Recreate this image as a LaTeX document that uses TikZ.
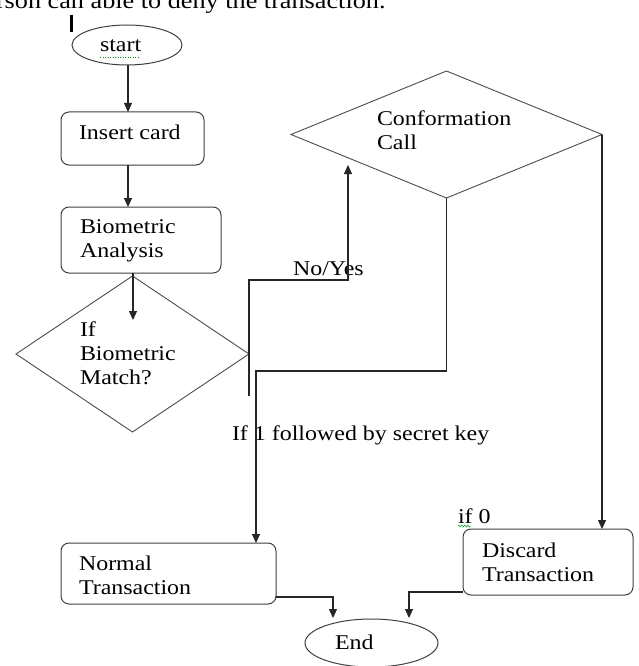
\documentclass[tikz,border=0pt]{standalone}
\usepackage{fontspec}
\setmainfont{Liberation Serif}[FakeStretch=1.14]
\usetikzlibrary{shapes.geometric,arrows.meta,decorations.pathmorphing}
\begin{document}
\begin{tikzpicture}[x=1pt,y=-1pt,
  every node/.style={inner sep=0pt, outer sep=0pt},
  lbl/.style={anchor=west, align=left, font=\fontsize{21}{24}\selectfont, text=black},
  rbox/.style={draw=black!75, line width=1pt, rounded corners=8pt},
  term/.style={draw=black!75, line width=1pt, ellipse},
  dec/.style={draw=black!70, line width=0.9pt, diamond},
  arr/.style={draw=black!85, line width=1.1pt, -{Triangle[width=8pt,length=9pt]}},
  ln/.style={draw=black!80, line width=1.1pt},
  squig/.style={draw=green!60!black, line width=0.5pt}
]
\useasboundingbox (0,0) rectangle (639,666);
\fill[white] (0,0) rectangle (639,666);
\clip (0,0) rectangle (639,666);

% top text (cut off by the page edge)
\node[anchor=base west, font=\fontsize{23}{26}\selectfont] (toptext) at (-4,9) {rson can able to deny the transaction.};
\draw[line width=3pt] (71,15) -- (71,32);

% shapes
\node[term, minimum width=110pt, minimum height=40pt] (start) at (127,45) {};
\node[rbox, minimum width=143pt, minimum height=53pt] (ins) at (132.5,138.5) {};
\node[rbox, minimum width=160pt, minimum height=66pt] (bio) at (141,240) {};
\node[dec, minimum width=233pt, minimum height=156pt] (d1) at (132.5,354) {};
\node[dec, minimum width=311pt, minimum height=127pt] (cf) at (446.5,134.5) {};
\node[rbox, minimum width=215pt, minimum height=61pt] (nt) at (168.5,573.5) {};
\node[rbox, minimum width=170pt, minimum height=66pt] (dt) at (548,562) {};
\node[term, minimum width=133pt, minimum height=48pt] (end) at (371.5,643) {};

% texts
\node[lbl] (tstart) at (100,46) {start};
\node[lbl] (tins) at (79,132) {Insert card};
\node[lbl] (tbio) at (80,241) {Biometric\\Analysis};
\node[lbl] (td1) at (80,353) {If\\Biometric\\Match?};
\node[lbl] (tcf) at (377,130) {Conformation\\Call};
\node[lbl] (tnt) at (79,575) {Normal\\Transaction};
\node[lbl] (tdt) at (482,562) {Discard\\Transaction};
\node[lbl] (tend) at (335,642) {End};
\node[lbl] (tny) at (293,269) {No/Yes};
\node[lbl] (tif1) at (232,435) {If 1 followed by secret key};
\node[lbl] (tif0) at (458,516) {if 0};

% spell-check marks
\draw[squig, dotted, line width=0.8pt] (100,57) -- (140,57);
\draw[squig, decorate, decoration={zigzag, amplitude=1pt, segment length=3pt}] (458,526) -- (471,526);

% coordinates for connector ends
\coordinate (binarr) at (133,320);
\coordinate (ny1) at (249,396);
\coordinate (nyc) at (348,280);
\coordinate (cfin) at (348,165);
\coordinate (c1) at (256,371);
\coordinate (nend) at (333,618);
\coordinate (dend) at (409,618);

% connectors
\draw[arr] (start.south -| 128,0) -- (ins.north -| 128,0);
\draw[arr] (ins.south -| 128,0) -- (bio.north -| 128,0);
\draw[arr] (bio.south -| binarr) -- (binarr);
\draw[arr] (ny1) |- (nyc) -- (cfin);
\draw[arr] (cf.south) |- (c1) -- (c1 |- nt.north);
\draw[arr] (cf.east) -- (cf.east |- dt.north);
\draw[arr] (nt.east |- 0,597) -| (nend);
\draw[arr] (dt.west |- 0,592) -| (dend);
\end{tikzpicture}
\end{document}
